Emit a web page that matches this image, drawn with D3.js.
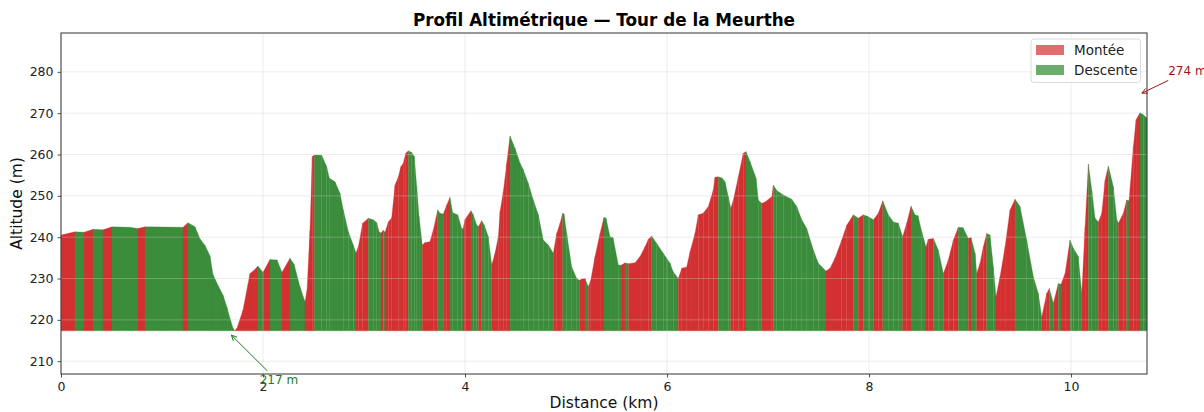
<!DOCTYPE html>
<html>
<head>
<meta charset="utf-8">
<script src="https://cdn.jsdelivr.net/npm/d3@7"></script>
<style>
  body { margin: 0; background: #fff; }
  text { font-family: "DejaVu Sans", sans-serif; }
</style>
</head>
<body>
<div id="chart"></div>
<script>
// profile data
const distances = [
  0, 0.139, 0.228, 0.317, 0.416, 0.505, 0.683, 0.762, 0.832, 1.030,
  1.208, 1.257, 1.327, 1.376, 1.426, 1.475, 1.505, 1.554, 1.604, 1.644,
  1.673, 1.703, 1.718, 1.743, 1.802, 1.871, 1.911, 1.950, 2.000, 2.069,
  2.139, 2.188, 2.267, 2.307, 2.366, 2.416, 2.436, 2.465, 2.488, 2.510,
  2.581, 2.630, 2.656, 2.713, 2.762, 2.795, 2.845, 2.894, 2.921, 2.944,
  2.987, 3.043, 3.092, 3.126, 3.149, 3.168, 3.191, 3.208, 3.241, 3.274,
  3.307, 3.340, 3.366, 3.389, 3.413, 3.439, 3.472, 3.498, 3.522, 3.545,
  3.577, 3.604, 3.653, 3.686, 3.730, 3.752, 3.785, 3.819, 3.851, 3.878,
  3.928, 3.967, 3.980, 4.000, 4.059, 4.082, 4.116, 4.134, 4.165, 4.191,
  4.231, 4.264, 4.297, 4.330, 4.347, 4.379, 4.413, 4.446, 4.495, 4.545,
  4.577, 4.627, 4.676, 4.726, 4.775, 4.825, 4.874, 4.908, 4.941, 4.967,
  4.980, 5.007, 5.056, 5.106, 5.132, 5.158, 5.188, 5.221, 5.245, 5.287,
  5.337, 5.376, 5.396, 5.436, 5.465, 5.518, 5.545, 5.584, 5.617, 5.683,
  5.733, 5.782, 5.815, 5.848, 5.898, 5.963, 6.030, 6.062, 6.112, 6.146,
  6.195, 6.228, 6.277, 6.310, 6.359, 6.409, 6.458, 6.475, 6.508, 6.545,
  6.574, 6.607, 6.631, 6.657, 6.706, 6.755, 6.782, 6.822, 6.881, 6.904,
  6.938, 6.970, 7.037, 7.053, 7.086, 7.152, 7.235, 7.284, 7.334, 7.383,
  7.449, 7.498, 7.574, 7.614, 7.663, 7.730, 7.779, 7.845, 7.894, 7.943,
  7.990, 8.043, 8.092, 8.136, 8.191, 8.241, 8.290, 8.333, 8.373, 8.416,
  8.455, 8.485, 8.522, 8.564, 8.587, 8.637, 8.686, 8.736, 8.785, 8.835,
  8.884, 8.931, 8.983, 9.010, 9.050, 9.066, 9.099, 9.132, 9.165, 9.198,
  9.231, 9.257, 9.297, 9.347, 9.396, 9.446, 9.495, 9.561, 9.627, 9.676,
  9.710, 9.759, 9.785, 9.825, 9.874, 9.901, 9.941, 9.990, 10.023, 10.072,
  10.106, 10.139, 10.172, 10.205, 10.238, 10.271, 10.304, 10.337, 10.370, 10.419,
  10.453, 10.469, 10.518, 10.551, 10.574, 10.617, 10.644, 10.683, 10.716, 10.752
];
const altitudes = [
  240.5, 241.3, 241.2, 241.9, 241.8, 242.5, 242.4, 242.1, 242.5, 242.45,
  242.4, 243.5, 242.5, 239.6, 238.0, 235.5, 231.0, 228.4, 226.0, 223.0,
  220.4, 218.0, 217.35, 218.0, 222.4, 231.2, 232.0, 233.0, 231.5, 234.6,
  234.5, 231.5, 234.9, 233.5, 228.0, 224.4, 227.2, 241.7, 259.5, 259.9,
  259.8, 257.1, 254.3, 253.4, 250.6, 246.6, 241.3, 238.1, 236.2, 237.7,
  243.4, 244.6, 244.2, 243.5, 241.3, 241.0, 241.7, 241.2, 243.7, 244.7,
  252.6, 254.6, 257.1, 257.9, 260.3, 260.9, 260.5, 259.5, 252.2, 245.0,
  238.1, 238.7, 238.9, 241.7, 246.6, 245.8, 245.6, 247.8, 249.6, 245.9,
  245.4, 242.1, 242.0, 244.3, 246.4, 245.4, 242.9, 242.6, 244.0, 242.9,
  240.1, 233.3, 236.1, 240.1, 246.2, 251.0, 257.9, 264.5, 261.5, 257.9,
  256.3, 253.0, 249.0, 245.4, 239.3, 238.1, 236.1, 240.9, 243.4, 245.8,
  245.6, 240.9, 232.8, 230.0, 229.6, 229.9, 230.0, 228.0, 229.6, 235.3,
  240.9, 244.8, 244.6, 240.1, 239.9, 233.3, 233.2, 233.8, 233.6, 233.8,
  235.3, 237.7, 239.5, 240.3, 238.5, 236.1, 233.7, 231.6, 230.0, 232.5,
  232.8, 236.5, 240.9, 245.4, 245.8, 247.4, 251.4, 254.5, 254.6, 254.3,
  253.4, 249.8, 247.0, 249.0, 254.6, 260.3, 260.7, 258.3, 254.3, 249.0,
  248.2, 248.5, 249.8, 252.6, 251.3, 250.2, 249.2, 247.4, 244.2, 242.1,
  236.9, 233.7, 231.8, 232.5, 234.9, 239.3, 242.9, 245.4, 244.6, 245.4,
  245.0, 244.2, 245.8, 248.8, 245.4, 243.7, 243.4, 240.1, 243.4, 247.5,
  245.4, 245.2, 241.3, 237.7, 239.5, 239.7, 236.9, 231.2, 234.5, 239.3,
  242.4, 242.3, 239.7, 239.9, 236.1, 231.2, 233.7, 237.7, 240.9, 240.5,
  232.8, 225.6, 230.4, 237.7, 246.6, 249.2, 247.4, 239.3, 230.4, 226.4,
  220.7, 226.4, 227.6, 224.0, 228.8, 228.6, 231.2, 239.3, 237.3, 235.3,
  226.4, 242.5, 257.7, 251.4, 244.6, 243.7, 245.8, 253.8, 257.2, 252.2,
  244.2, 243.4, 245.8, 249.0, 248.8, 261.9, 268.4, 270.1, 269.6, 268.8
];
const xTicks = [0, 2, 4, 6, 8, 10];
const yTicks = [210, 220, 230, 240, 250, 260, 270, 280];
const legendLabels = ['Montée', 'Descente'];
// annotated extremes (raw values)
const minMark = { d: 1.67, alt: 216.7, label: '217 m' };
const maxMark = { d: 10.68, alt: 274.6, label: '274 m' };

// canvas
const margin = { top: 33, right: 57, bottom: 38, left: 61 };
const W = 1204, H = 412;
const width = W - margin.left - margin.right;
const height = H - margin.top - margin.bottom;

const svg = d3.select('#chart').append('svg')
  .attr('width', W).attr('height', H);
const g = svg.append('g')
  .attr('transform', `translate(${margin.left},${margin.top})`);

const x = d3.scaleLinear().domain([0, d3.max(distances)]).range([0, width]);
const y = d3.scaleLinear().domain([206.9, 289.4]).range([height, 0]);

const upColor = '#d33131', downColor = '#3b8c3b';
const base = d3.min(altitudes);

// filled segments, red going up, green going down
const segs = d3.range(distances.length - 1).map(i => ({
  d0: distances[i], d1: distances[i + 1], a0: altitudes[i], a1: altitudes[i + 1]
}));
g.append('g').selectAll('path')
  .data(segs)
  .enter().append('path')
  .attr('d', s => `M${x(s.d0)},${y(s.a0)}L${x(s.d1)},${y(s.a1)}L${x(s.d1)},${y(base)}L${x(s.d0)},${y(base)}Z`)
  .attr('fill', s => s.a1 > s.a0 ? upColor : downColor)
  .attr('stroke', s => s.a1 > s.a0 ? upColor : downColor)
  .attr('stroke-width', 0.3);

// grid on top, faint
const grid = g.append('g').attr('stroke', 'rgba(205,205,205,0.45)').attr('stroke-width', 0.8);
xTicks.forEach(t => grid.append('line').attr('x1', x(t)).attr('x2', x(t)).attr('y1', 0).attr('y2', height));
yTicks.forEach(t => grid.append('line').attr('x1', 0).attr('x2', width).attr('y1', y(t)).attr('y2', y(t)));

// axes
const xAxis = g.append('g').attr('transform', `translate(0,${height})`)
  .call(d3.axisBottom(x).tickValues(xTicks).tickFormat(d3.format('d')).tickSize(3.5).tickPadding(5));
const yAxis = g.append('g')
  .call(d3.axisLeft(y).tickValues(yTicks).tickSize(3.5).tickPadding(4));
[xAxis, yAxis].forEach(a => {
  a.select('.domain').remove();
  a.selectAll('line').attr('stroke', '#222').attr('stroke-width', 0.8);
  a.selectAll('text').attr('font-size', 12.5).attr('fill', '#222').attr('font-family', 'DejaVu Sans');
});
g.append('rect').attr('width', width).attr('height', height)
  .attr('fill', 'none').attr('stroke', '#333').attr('stroke-width', 1);

// titles
svg.append('text').attr('x', margin.left + width / 2).attr('y', 26)
  .attr('text-anchor', 'middle').attr('font-size', 16.8).attr('font-weight', 'bold')
  .text('Profil Altimétrique — Tour de la Meurthe');
svg.append('text').attr('x', margin.left + width / 2).attr('y', 408)
  .attr('text-anchor', 'middle').attr('font-size', 15.5).attr('fill', '#111')
  .text('Distance (km)');
svg.append('text').attr('transform', 'rotate(-90)')
  .attr('x', -(margin.top + height / 2)).attr('y', 22)
  .attr('text-anchor', 'middle').attr('font-size', 15.5).attr('fill', '#111')
  .text('Altitude (m)');

// annotations with open arrow heads
function annotate(m, dx, dy, tx, ty, color) {
  const px = x(m.d), py = y(m.alt);
  const ex = px + tx, ey = py + ty;
  const len = Math.hypot(ex - px, ey - py);
  const ux = (px - ex) / len, uy = (py - ey) / len;
  const hx = px - ux * 2.4, hy = py - uy * 2.4;
  const a = g.append('g').attr('stroke', color).attr('stroke-width', 1).attr('fill', 'none');
  a.append('line').attr('x1', ex).attr('y1', ey).attr('x2', hx).attr('y2', hy);
  const ang = Math.atan2(uy, ux), h = 6, spread = 0.45;
  [ang + Math.PI - spread, ang + Math.PI + spread].forEach(t => {
    a.append('line').attr('x1', hx).attr('y1', hy)
      .attr('x2', hx + h * Math.cos(t)).attr('y2', hy + h * Math.sin(t));
  });
  g.append('text').attr('x', px + dx).attr('y', py + dy).attr('dy', '0.35em')
    .attr('font-size', 12).attr('fill', color).text(m.label);
}
annotate(minMark, 30, 46, 37.7, 37.4, '#1e7b1e');
annotate(maxMark, 28.5, -23.7, 28.5, -13.7, '#a01414');

// legend
const lg = g.append('g').attr('transform', `translate(${width - 116},6)`);
lg.append('rect').attr('width', 109.5).attr('height', 43.5).attr('rx', 3)
  .attr('fill', 'rgba(255,255,255,0.85)').attr('stroke', '#d0d0d0').attr('stroke-width', 0.8);
const legendColors = ['#e06c6c', '#6cac6c'];
legendLabels.forEach((lab, i) => {
  lg.append('rect').attr('x', 5).attr('y', 6 + i * 20).attr('width', 28).attr('height', 10)
    .attr('fill', legendColors[i]);
  lg.append('text').attr('x', 43).attr('y', 11.5 + i * 19.5).attr('dy', '0.35em')
    .attr('font-size', 13.5).attr('fill', '#222').text(lab);
});
</script>
</body>
</html>
